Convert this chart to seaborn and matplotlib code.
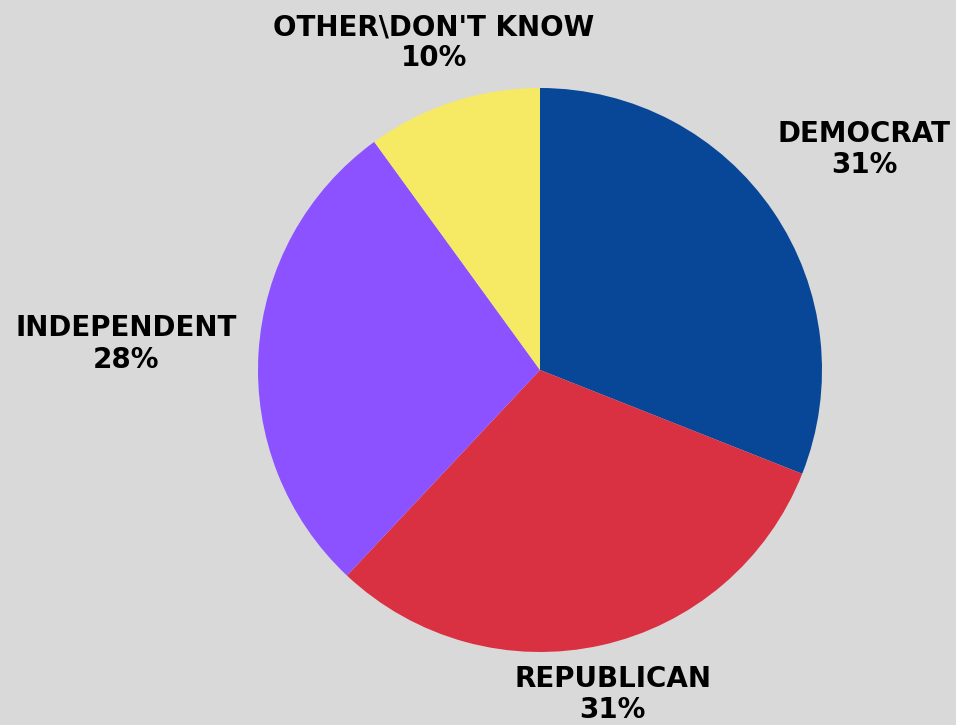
import matplotlib.pyplot as plt
import seaborn as sns
import numpy as np

# party identification shares
parties = ['DEMOCRAT', 'REPUBLICAN', 'INDEPENDENT', "OTHER\\DON'T KNOW"]
shares = [31, 31, 28, 10]
colors = ['#084797', '#d93042', '#8c52ff', '#f6e963']
label_dist = [1.39, 1.18, 1.47, 1.22]

sns.set_theme(style='white')
plt.rcParams['font.family'] = ['DejaVu Sans']
bg = '#d9d9d9'

fig = plt.figure(figsize=(9.56, 7.25), dpi=100, facecolor=bg)
ax = fig.add_axes([0, 0, 1, 1])
ax.set_facecolor(bg)

wedges, _ = ax.pie(shares, colors=colors, startangle=90, counterclock=False,
                   radius=1, wedgeprops=dict(linewidth=0))

for w, name, val, d in zip(wedges, parties, shares, label_dist):
    mid = np.deg2rad((w.theta1 + w.theta2) / 2)
    ax.text(d * np.cos(mid), d * np.sin(mid), f'{name}\n{val}%',
            ha='center', va='center', fontsize=20, fontweight='heavy',
            fontstretch='expanded', color='black', linespacing=1.15)

# map the unit pie onto the pixel layout of the reference
s = 282
ax.set_xlim(-540 / s, (956 - 540) / s)
ax.set_ylim(-(725 - 370) / s, 370 / s)
ax.set_aspect('auto')
ax.axis('off')

fig.savefig('out.png', dpi=100, facecolor=bg)
